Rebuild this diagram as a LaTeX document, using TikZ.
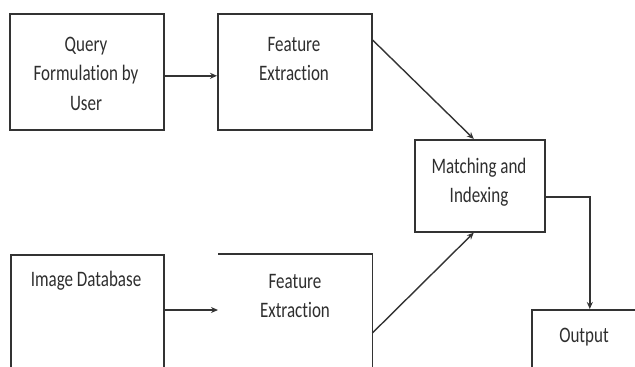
\documentclass[tikz,border=0pt]{standalone}
\usepackage{fontspec}
\usepackage{graphicx}
\setmainfont{Carlito}[Ligatures=NoCommon]
\usetikzlibrary{arrows.meta}
\definecolor{linec}{HTML}{333333}
\definecolor{txtc}{HTML}{2E2E2E}
\newcommand\tx[1]{\scalebox{1}[1.3]{\begin{tabular}{@{}c@{}}#1\end{tabular}}}
\begin{document}
\begin{tikzpicture}[x=1pt,y=-1pt,
  box/.style={draw=linec, line width=1.6pt, anchor=north west, inner sep=0pt},
  openbox/.style={anchor=north west, inner sep=0pt},
  txt/.style={text=txtc, inner sep=0pt, font=\fontsize{17}{23}\selectfont},
  arr/.style={draw=linec, line width=1.4pt, -{Stealth[length=7pt,width=6pt]}}]
\useasboundingbox (0,0) rectangle (635,367);
\clip (0,0) rectangle (635,367);
% boxes
\node[box, minimum width=154pt, minimum height=116pt] (q) at (9,13) {};
\node[box, minimum width=154pt, minimum height=116pt] (fe1) at (217,13) {};
\node[box, minimum width=130pt, minimum height=92pt] (mi) at (414,139) {};
\node[box, minimum width=153pt, minimum height=200pt] (db) at (10,254) {};
\node[openbox, minimum width=154pt, minimum height=200pt] (fe2) at (218,254) {};
\draw[linec, line width=1.6pt] (fe2.north west) -- (fe2.north east) -- (fe2.south east);
\node[box, minimum width=116pt, minimum height=100pt] (out) at (531,309) {};
% texts
\node[txt] (qt) at (86,75) {\tx{Query\\Formulation by\\User}};
\node[txt] (fe1t) at (294,60) {\tx{Feature\\Extraction}};
\node[txt] (mit) at (479,182) {\tx{Matching and\\Indexing}};
\node[txt] (dbt) at (86,281) {\tx{Image Database}};
\node[txt] (fe2t) at (295,297) {\tx{Feature\\Extraction}};
\node[txt] (outt) at (584,337) {\tx{Output}};
% connectors
\draw[arr, line width=2.4pt] ([yshift=-4pt]q.east) -- ([yshift=-4pt]fe1.west);
\draw[arr] ([yshift=-27pt]fe1.north east) -- ([xshift=-6pt]mi.north);
\draw[arr] ([yshift=-79pt]fe2.north east) -- ([xshift=-6pt]mi.south);
\draw[arr] ([yshift=-56pt]db.north east) -- ([yshift=-56pt]fe2.north west);
\draw[arr] ([yshift=-11pt]mi.east) -| (out.north);
\end{tikzpicture}
\end{document}
